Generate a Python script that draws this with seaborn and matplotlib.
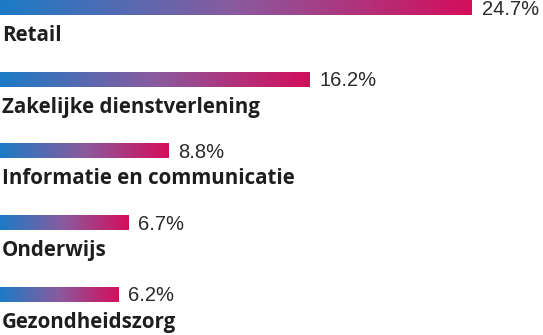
import numpy as np
import pandas as pd
import matplotlib
matplotlib.use("Agg")
import matplotlib.pyplot as plt
from matplotlib.colors import LinearSegmentedColormap
from matplotlib.transforms import offset_copy
import seaborn as sns

# Share of businesses per sector (%)
sectors = ["Retail", "Zakelijke dienstverlening", "Informatie en communicatie",
           "Onderwijs", "Gezondheidszorg"]
shares = [24.7, 16.2, 8.8, 6.7, 6.2]
value_labels = ["24.7%", "16.2%", "8.8%", "6.7%", "6.2%"]

df = pd.DataFrame({"sector": sectors, "share": shares})

sns.set_theme(style="white")
fig = plt.figure(figsize=(5.43, 3.35), dpi=100)
ax = fig.add_axes([0, 0, 1, 1])

sns.barplot(data=df, x="share", y="sector", orient="h", width=0.209,
            color="#7a5aa0", ax=ax)

grad = LinearSegmentedColormap.from_list("bluecrimson", ["#1c7bc6", "#8a5a9e", "#d40e5c"])
ramp = np.linspace(0, 1, 256).reshape(1, -1)

# Paint each bar with a left-to-right blue→crimson ramp
for patch in ax.patches:
    x0, y0 = patch.get_x(), patch.get_y()
    w, h = patch.get_width(), patch.get_height()
    ax.imshow(ramp, cmap=grad, aspect="auto", extent=(x0, x0 + w, y0 + h, y0),
              interpolation="bilinear", zorder=2)
    patch.set_visible(False)

ax.set_xlim(0, 28.42)
ax.set_ylim(4.567, -0.1046)
ax.axis("off")

below = offset_copy(ax.transData, fig=fig, x=2, y=-33.5, units="dots")
right = offset_copy(ax.transData, fig=fig, x=10, y=-7, units="dots")
for i, (name, val, lab) in enumerate(zip(sectors, shares, value_labels)):
    ax.text(val, i, lab, transform=right, ha="left", va="baseline",
            fontsize=14.5, color="#2b2b2b", family="Liberation Sans")
    ax.text(0, i, name, transform=below, ha="left", va="baseline",
            fontsize=14.8, fontweight="bold", color="#1e1e1e", family="Open Sans")

fig.savefig("out.png", dpi=100)
